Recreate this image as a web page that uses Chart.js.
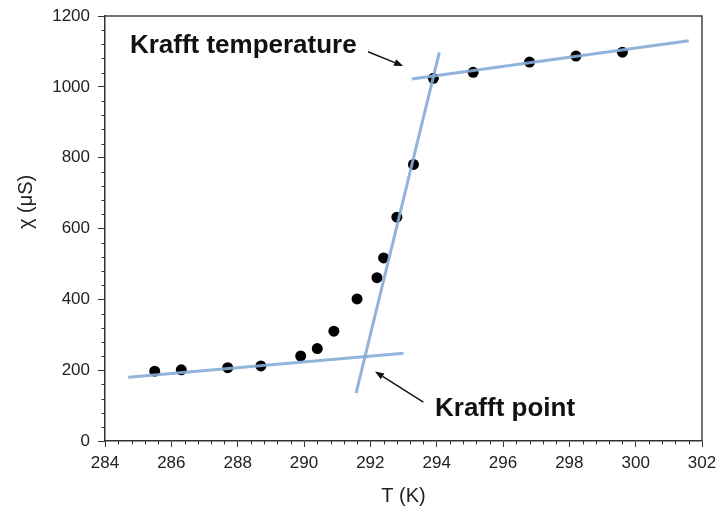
<!DOCTYPE html>
<html>
<head>
<meta charset="utf-8">
<script src="https://cdn.jsdelivr.net/npm/chart.js@4.4.1/dist/chart.umd.min.js"></script>
<style>
  html, body { margin: 0; padding: 0; background: #ffffff; }
  canvas { display: block; }
</style>
</head>
<body>
<canvas id="c" width="717" height="509"></canvas>
<script>
// ---- data ----
const temperatureK = [285.5, 286.3, 287.7, 288.7, 289.9, 290.4, 290.9, 291.6, 292.2, 292.4, 292.8, 293.3, 293.9, 295.1, 296.8, 298.2, 299.6];
const conductivityUS = [197, 201, 207, 212, 240, 261, 310, 401, 461, 517, 632, 781, 1024, 1041, 1070, 1087, 1098];

// fitted guide lines (endpoints, x = T, y = chi)
const lowFitT = [284.7, 293.0];
const lowFitChi = [180, 248];
const steepFitT = [291.57, 294.08];
const steepFitChi = [135, 1097];
const highFitT = [293.25, 301.6];
const highFitChi = [1022, 1130];

const xTickMin = 284, xTickMax = 302, xTickStep = 2;
const yTickMin = 0, yTickMax = 1200, yTickStep = 200;

const xTitle = 'T (K)';
const yTitle = 'χ (μS)';

// annotation texts and anchor points (in data units)
const annoTexts = ['Krafft temperature', 'Krafft point'];
const annoTextT = [284.75, 293.95];
const annoTextChi = [1096, 72];
const arrowFromT = [291.93, 293.6];
const arrowFromChi = [1099, 110];
const arrowToT = [292.99, 292.14];
const arrowToChi = [1059, 196];

const toPts = (xs, ys) => xs.map((x, i) => ({ x: x, y: ys[i] }));

const FONT = '"Liberation Sans", Arial, Helvetica, sans-serif';
const FIT_COLOR = 'rgba(135,172,214,0.9)';

const framePlugin = {
  id: 'frameAndExtras',
  afterDraw(chart) {
    const ctx = chart.ctx;
    const xs = chart.scales.x, ys = chart.scales.y;
    const a = chart.chartArea;
    ctx.save();
    // top & right frame
    ctx.strokeStyle = '#444';
    ctx.lineWidth = 1.5;
    ctx.beginPath();
    ctx.moveTo(a.left, a.top);
    ctx.lineTo(a.right, a.top);
    ctx.lineTo(a.right, a.bottom);
    ctx.stroke();
    // minor ticks
    ctx.lineWidth = 1;
    ctx.strokeStyle = '#333';
    ctx.beginPath();
    const nx = Math.round((xTickMax - xTickMin) / 0.4);
    for (let i = 1; i < nx; i++) {
      if (i % 5 === 0) continue;
      const px = Math.round(xs.getPixelForValue(xTickMin + i * 0.4)) + 0.5;
      ctx.moveTo(px, a.bottom);
      ctx.lineTo(px, a.bottom + 3.5);
    }
    const ny = Math.round((yTickMax - yTickMin) / 40);
    for (let i = 1; i < ny; i++) {
      if (i % 5 === 0) continue;
      const py = Math.round(ys.getPixelForValue(yTickMin + i * 40)) + 0.5;
      ctx.moveTo(a.left - 3.5, py);
      ctx.lineTo(a.left, py);
    }
    ctx.stroke();

    // y axis title (rotated)
    ctx.fillStyle = '#222';
    ctx.font = '20px ' + FONT;
    ctx.textAlign = 'center';
    ctx.textBaseline = 'middle';
    ctx.translate(26, ys.getPixelForValue(675));
    ctx.rotate(-Math.PI / 2);
    ctx.fillText(yTitle, 0, 0);
    ctx.setTransform(1, 0, 0, 1, 0, 0);

    // annotations
    ctx.fillStyle = '#111';
    ctx.font = 'bold 26px ' + FONT;
    ctx.textAlign = 'left';
    ctx.textBaseline = 'alphabetic';
    annoTexts.forEach((t, i) => {
      ctx.fillText(t, xs.getPixelForValue(annoTextT[i]), ys.getPixelForValue(annoTextChi[i]));
    });
    ctx.strokeStyle = '#111';
    ctx.lineWidth = 1.4;
    annoTexts.forEach((t, i) => {
      const x1 = xs.getPixelForValue(arrowFromT[i]), y1 = ys.getPixelForValue(arrowFromChi[i]);
      const x2 = xs.getPixelForValue(arrowToT[i]), y2 = ys.getPixelForValue(arrowToChi[i]);
      const ang = Math.atan2(y2 - y1, x2 - x1);
      const hl = 9, hw = 3.5;
      const bx = x2 - hl * Math.cos(ang), by = y2 - hl * Math.sin(ang);
      ctx.beginPath();
      ctx.moveTo(x1, y1);
      ctx.lineTo(bx, by);
      ctx.stroke();
      ctx.beginPath();
      ctx.moveTo(x2, y2);
      ctx.lineTo(bx + hw * Math.sin(ang), by - hw * Math.cos(ang));
      ctx.lineTo(bx - hw * Math.sin(ang), by + hw * Math.cos(ang));
      ctx.closePath();
      ctx.fill();
    });
    ctx.restore();
  }
};

const fitStyle = {
  type: 'line',
  showLine: true,
  borderColor: FIT_COLOR,
  borderWidth: 3,
  pointRadius: 0,
  fill: false,
  order: 0
};

new Chart(document.getElementById('c'), {
  type: 'scatter',
  data: {
    datasets: [
      Object.assign({ label: 'low', data: toPts(lowFitT, lowFitChi) }, fitStyle),
      Object.assign({ label: 'steep', data: toPts(steepFitT, steepFitChi) }, fitStyle),
      Object.assign({ label: 'high', data: toPts(highFitT, highFitChi) }, fitStyle),
      {
        label: 'chi',
        data: toPts(temperatureK, conductivityUS),
        backgroundColor: '#000',
        borderColor: '#000',
        borderWidth: 0,
        pointRadius: 5.5,
        order: 1
      }
    ]
  },
  options: {
    responsive: false,
    animation: false,
    devicePixelRatio: 1,
    layout: { padding: { top: 16, right: 15, left: 0, bottom: 0 } },
    plugins: { legend: { display: false }, tooltip: { enabled: false } },
    scales: {
      x: {
        type: 'linear',
        min: xTickMin,
        max: xTickMax,
        afterFit(s) { s.height = 68; s.paddingLeft = 0; s.paddingRight = 0; },
        ticks: { stepSize: xTickStep, color: '#222', font: { family: FONT, size: 17 }, padding: 6, maxRotation: 0,
                 callback: (v) => String(v) },
        grid: { drawOnChartArea: false, drawTicks: true, tickLength: 6, tickColor: '#333', tickWidth: 1 },
        border: { color: '#333', width: 1.5 },
        title: { display: true, text: xTitle, color: '#222', font: { family: FONT, size: 20 }, padding: { top: 0, bottom: 1 } }
      },
      y: {
        type: 'linear',
        min: yTickMin,
        max: yTickMax,
        afterFit(s) { s.width = 105; s.paddingTop = 0; s.paddingBottom = 0; },
        ticks: { stepSize: yTickStep, color: '#222', font: { family: FONT, size: 17 }, padding: 8,
                 callback: (v) => String(v) },
        grid: { drawOnChartArea: false, drawTicks: true, tickLength: 7, tickColor: '#333', tickWidth: 1 },
        border: { color: '#333', width: 1.5 },
        title: { display: false }
      }
    }
  },
  plugins: [framePlugin]
});
</script>
</body>
</html>
